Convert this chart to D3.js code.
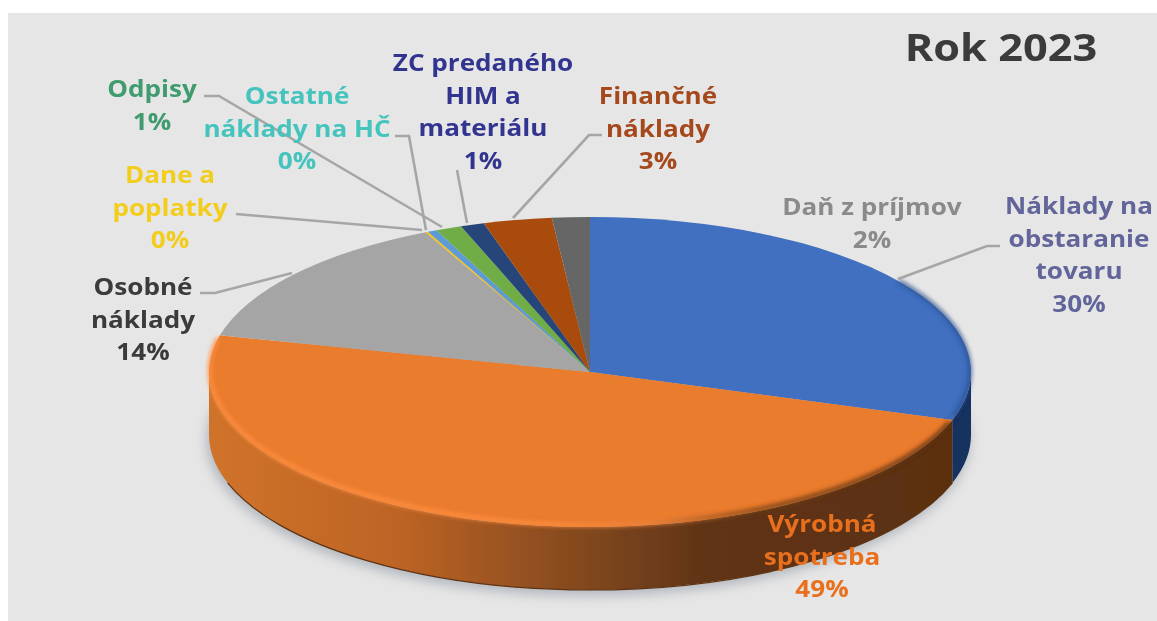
<!DOCTYPE html>
<html lang="en">
<head>
    <meta charset="UTF-8">
    <title>Rok 2023</title>
    <script src="https://d3js.org/d3.v7.min.js"></script>
    <style>
        html, body { margin: 0; padding: 0; background: #fff; }
        svg { display: block; }
        text { font-family: "Open Sans", sans-serif; font-weight: 700; }
    </style>
</head>
<body>
<script>
    const width = 1157;
    const height = 621;

    // values, clockwise from 12 o'clock
    const categories = [
        "Náklady na obstaranie tovaru", "Výrobná spotreba", "Osobné náklady",
        "Dane a poplatky", "Ostatné náklady na HČ", "Odpisy",
        "ZC predaného HIM a materiálu", "Finančné náklady", "Daň z príjmov"
    ];
    const values = [30, 48.8, 14.1, 0.1, 0.4, 1.1, 1.0, 2.9, 1.6];
    const sliceColors = ["#3f6fbf", "#ea7b2e", "#a5a5a5", "#ffc000", "#5b9bd5", "#70ad47", "#264478", "#a84c0c", "#666666"];
    const labelLines = [
        ["Náklady na", "obstaranie", "tovaru"], ["Výrobná", "spotreba"], ["Osobné", "náklady"],
        ["Dane a", "poplatky"], ["Ostatné", "náklady na HČ"], ["Odpisy"],
        ["ZC predaného", "HIM a", "materiálu"], ["Finančné", "náklady"], ["Daň z príjmov"]
    ];
    const labelColors = ["#62659a", "#e8701f", "#3a3a3a", "#f2cd1f", "#45c4bd", "#3f9b6e", "#33358f", "#a5481a", "#8a8a8a"];

    // layout: label centre x + first line y, and leader polylines
    const labelPos = [[1079, 206], [822, 524], [143, 287], [170, 175], [297, 96], [152, 89], [483, 63], [658, 96], [872, 207]];
    const leaders = [
        [[1000, 246], [987, 246], [898, 279]],
        [],
        [[200, 293], [215, 293], [292, 273]],
        [[236, 214], [422, 230]],
        [[395, 136], [409, 136], [426, 230]],
        [[204, 96], [219, 96], [442, 227]],
        [[457, 170], [467, 223]],
        [[602, 135], [589, 135], [513, 218]],
        []
    ];

    const cx = 590, cy = 372, rx = 381, ry = 155, depth = 63;
    const lineGap = 32.5;
    const stretch = 1.16; // the source picture is stretched sideways

    const svg = d3.select("body").append("svg")
            .attr("width", width).attr("height", height);

    const defs = svg.append("defs");
    [["soft", 0.55], ["blur1", 2], ["blur2", 6]].forEach(function(f) {
        defs.append("filter").attr("id", f[0])
                .attr("x", "-10%").attr("y", "-10%").attr("width", "120%").attr("height", "120%")
                .append("feGaussianBlur").attr("stdDeviation", f[1]);
    });

    function gradient(id, stops) {
        const g = defs.append("linearGradient").attr("id", id)
                .attr("gradientUnits", "userSpaceOnUse")
                .attr("x1", -rx).attr("x2", rx).attr("y1", 0).attr("y2", 0);
        stops.forEach(function(s) {
            g.append("stop").attr("offset", s[0]).attr("stop-color", s[1]);
        });
    }
    gradient("wallOrange", [[0, "#d0732a"], [0.25, "#bd6425"], [0.5, "#80471e"], [0.65, "#603417"], [1, "#5a2f10"]]);
    gradient("rimOrange", [[0, "#ff8f3f"], [0.45, "#ff8f3f"], [0.58, "#e8803a"], [0.72, "#7a4318"], [1, "#5a2f10"]]);

    const root = svg.append("g").attr("filter", "url(#soft)");

    root.append("rect").attr("x", 8).attr("y", 13)
            .attr("width", width - 8).attr("height", height - 13)
            .attr("fill", "#e7e6e6");

    // shadow under the pie
    root.append("ellipse")
            .attr("cx", cx - 2).attr("cy", cy + depth + 5)
            .attr("rx", rx + 1).attr("ry", ry + 1)
            .attr("fill", "#8f9aa5").attr("opacity", 0.6)
            .attr("filter", "url(#blur2)");

    const pie = d3.pie().sort(null).value(d => d);
    const arcs = pie(values);

    const px = a => rx * Math.sin(a);
    const py = a => -ry * Math.cos(a);

    // front wall, only the part between 3 and 9 o'clock shows
    function wallPath(a0, a1) {
        const s = Math.max(a0, Math.PI / 2), e = Math.min(a1, Math.PI * 1.5);
        if (e <= s) return null;
        return `M${px(s)},${py(s)}A${rx},${ry} 0 0 1 ${px(e)},${py(e)}` +
               `L${px(e)},${py(e) + depth}A${rx},${ry} 0 0 0 ${px(s)},${py(s) + depth}Z`;
    }
    function rimPath(a0, a1) {
        return `M${px(a0)},${py(a0)}A${rx},${ry} 0 0 1 ${px(a1)},${py(a1)}`;
    }

    const pieG = root.append("g").attr("transform", `translate(${cx},${cy})`);

    pieG.selectAll("path.wall")
            .data(arcs.filter(d => wallPath(d.startAngle, d.endAngle)))
            .enter().append("path")
            .attr("class", "wall")
            .attr("d", d => wallPath(d.startAngle, d.endAngle))
            .attr("fill", d => d.index === 1 ? "url(#wallOrange)" : "#15305f");

    // dark line where the wall meets the floor
    pieG.append("path")
            .attr("d", rimPath(arcs[1].startAngle, Math.PI * 1.4))
            .attr("transform", `translate(0,${depth})`)
            .attr("fill", "none")
            .attr("stroke", "#5f3312")
            .attr("stroke-width", 1.2);

    // top face: circular arcs squashed to the tilt of the pie
    const arc = d3.arc().innerRadius(0).outerRadius(rx);
    pieG.append("g").attr("transform", `scale(1,${ry / rx})`)
            .selectAll("path.slice")
            .data(arcs)
            .enter().append("path")
            .attr("class", "slice")
            .attr("d", arc)
            .attr("fill", (d, i) => sliceColors[i]);

    // bevel along the rim
    const rimG = pieG.append("g").attr("fill", "none").attr("filter", "url(#blur1)");
    rimG.append("path")
            .attr("d", rimPath(arcs[1].startAngle + 0.03, arcs[1].endAngle - 0.03))
            .attr("transform", "translate(1,-2)")
            .attr("stroke", "url(#rimOrange)")
            .attr("stroke-width", 4);
    rimG.append("path")
            .attr("d", rimPath(arcs[0].startAngle + 0.95, arcs[0].endAngle - 0.02))
            .attr("transform", "translate(-1,-1)")
            .attr("stroke", "#2a4d8a")
            .attr("stroke-width", 3);

    // leader lines
    const line = d3.line();
    root.append("g").selectAll("path")
            .data(leaders.filter(d => d.length))
            .enter().append("path")
            .attr("d", line)
            .attr("fill", "none")
            .attr("stroke", "#a6a6a6")
            .attr("stroke-width", 2.6);

    // data labels
    const pct = v => Math.round(v) + "%";
    const labels = root.append("g").selectAll("text")
            .data(categories)
            .enter().append("text")
            .attr("text-anchor", "middle")
            .attr("font-size", 22.5)
            .attr("fill", (d, i) => labelColors[i])
            .attr("transform", (d, i) => `translate(${labelPos[i][0]},0) scale(${stretch},1)`);

    labels.each(function(d, i) {
        const rows = labelLines[i].concat(pct(values[i]));
        d3.select(this).selectAll("tspan")
                .data(rows)
                .enter().append("tspan")
                .attr("x", 0)
                .attr("y", (r, j) => labelPos[i][1] + j * lineGap)
                .attr("dy", "0.36em")
                .text(r => r);
    });

    root.append("text")
            .attr("transform", "translate(1001,47) scale(1.14,1)")
            .attr("dy", "0.36em")
            .attr("text-anchor", "middle")
            .attr("font-size", 38)
            .attr("fill", "#3a3a3a")
            .text("Rok 2023");
</script>
</body>
</html>
